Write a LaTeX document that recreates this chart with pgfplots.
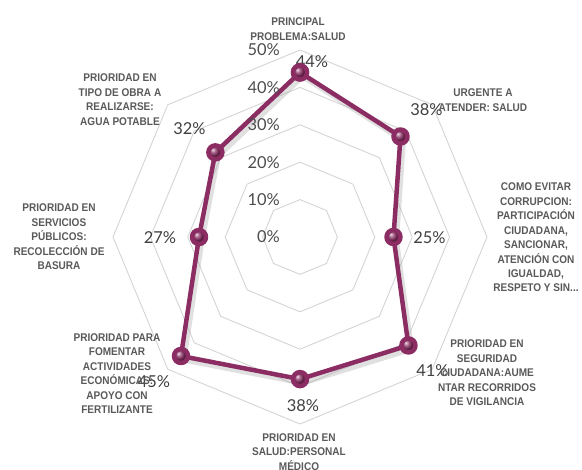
\documentclass[border=0pt]{standalone}
\usepackage{pgfplots}
\pgfplotsset{compat=1.18}
\usepgfplotslibrary{polar}
\usepackage{fontspec}
\setmainfont{Liberation Sans}
\newfontfamily\pctfont{Lato}
\newfontfamily\catfont{Liberation Sans}[FakeStretch=0.9]
\definecolor{berry}{HTML}{8B2D63}
\definecolor{gridgray}{HTML}{D4D4D4}
\definecolor{catgray}{HTML}{595959}
\definecolor{pctgray}{HTML}{404040}
\definecolor{tickgray}{HTML}{4D4D4D}
\begin{document}
\begin{tikzpicture}
\begin{polaraxis}[
  hide axis,
  scale only axis,
  width=374bp, height=374bp,
  xmin=0, xmax=360, ymin=0, ymax=50,
  clip=false,
]
% octagonal grid rings
\pgfplotsinvokeforeach{10,20,30,40,50}{
  \addplot[gridgray, line width=0.9bp, mark=none] coordinates {(90,#1) (45,#1) (0,#1) (-45,#1) (-90,#1) (-135,#1) (180,#1) (135,#1) (90,#1)};
}
% shadow
\addplot[black!40, opacity=0.3, line width=6bp, mark=none, shift={(2.5bp,-3.5bp)}] coordinates {
 (90,44) (45,38) (0,25) (-45,41) (-90,38) (-135,45) (180,27) (135,32) (90,44)};
% data series
\addplot[berry, line width=4.5bp, line join=round, mark=ball, mark size=7bp, mark options={ball color=berry}] coordinates {
 (90,44) (45,38) (0,25) (-45,41) (-90,38) (-135,45) (180,27) (135,32) (90,44)};
\coordinate (C) at (axis cs:0,0);
% radial tick labels
\pgfplotsinvokeforeach{0,10,20,30,40,50}{
  \node[anchor=east, text=tickgray, font=\pctfont\fontsize{16.5}{18}\selectfont, inner sep=0pt] at (axis cs:90,#1) [xshift=-20bp] {#1\%};
}
% data labels
\node[text=pctgray, font=\pctfont\fontsize{16.5}{18}\selectfont, inner sep=0pt] at (axis cs:90,44) [xshift=12bp, yshift=11bp] {44\%};
\node[text=pctgray, font=\pctfont\fontsize{16.5}{18}\selectfont, inner sep=0pt] at (axis cs:45,38) [xshift=26bp, yshift=27bp] {38\%};
\node[text=pctgray, font=\pctfont\fontsize{16.5}{18}\selectfont, inner sep=0pt] at (axis cs:0,25) [xshift=36bp, yshift=-1bp] {25\%};
\node[text=pctgray, font=\pctfont\fontsize{16.5}{18}\selectfont, inner sep=0pt] at (axis cs:-45,41) [xshift=24bp, yshift=-25bp] {41\%};
\node[text=pctgray, font=\pctfont\fontsize{16.5}{18}\selectfont, inner sep=0pt] at (axis cs:-90,38) [xshift=3bp, yshift=-26bp] {38\%};
\node[text=pctgray, font=\pctfont\fontsize{16.5}{18}\selectfont, inner sep=0pt] at (axis cs:-135,45) [xshift=-27bp, yshift=-26bp] {45\%};
\node[text=pctgray, font=\pctfont\fontsize{16.5}{18}\selectfont, inner sep=0pt] at (axis cs:180,27) [xshift=-39bp, yshift=-1bp] {27\%};
\node[text=pctgray, font=\pctfont\fontsize{16.5}{18}\selectfont, inner sep=0pt] at (axis cs:135,32) [xshift=-26bp, yshift=24bp] {32\%};
\end{polaraxis}
\begin{scope}[every node/.style={align=center, text=catgray, font=\catfont\bfseries\fontsize{11.2}{14.5}\selectfont, inner sep=0pt}]
\node at ([shift={(-2bp,208bp)}]C) {PRINCIPAL\\PROBLEMA:SALUD};
\node at ([shift={(183bp,137bp)}]C) {URGENTE A\\ATENDER: SALUD};
\node at ([shift={(236bp,-0.5bp)}]C) {COMO EVITAR\\CORRUPCION:\\PARTICIPACIÓN\\CIUDADANA,\\SANCIONAR,\\ATENCIÓN CON\\IGUALDAD,\\RESPETO Y SIN...};
\node at ([shift={(187bp,-136bp)}]C) {PRIORIDAD EN\\SEGURIDAD\\CIUDADANA:AUME\\NTAR RECORRIDOS\\DE VIGILANCIA};
\node at ([shift={(-1bp,-215bp)}]C) {PRIORIDAD EN\\SALUD:PERSONAL\\MÉDICO};
\node at ([shift={(-183bp,-136.5bp)}]C) {PRIORIDAD PARA\\FOMENTAR\\ACTIVIDADES\\ECONÓMICAS:\\APOYO CON\\FERTILIZANTE};
\node at ([shift={(-241bp,0bp)}]C) {PRIORIDAD EN\\SERVICIOS\\PÚBLICOS:\\RECOLECCIÓN DE\\BASURA};
\node at ([shift={(-180bp,137.5bp)}]C) {PRIORIDAD EN\\TIPO DE OBRA A\\REALIZARSE:\\AGUA POTABLE};
\end{scope}
\pgfresetboundingbox
\path[use as bounding box] ([shift={(-300bp,-233bp)}]C) rectangle ([shift={(282bp,237bp)}]C);
\end{tikzpicture}
\end{document}
